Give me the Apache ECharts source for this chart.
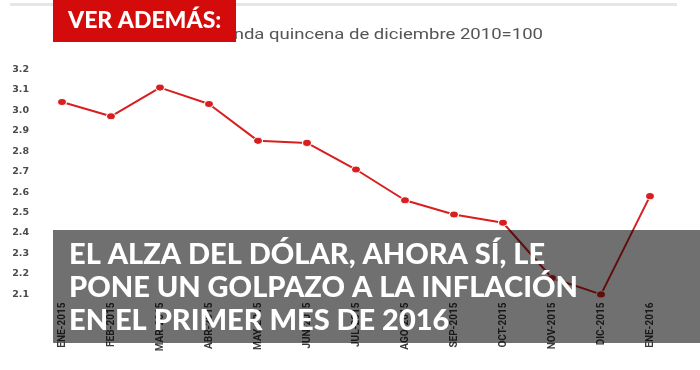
<!DOCTYPE html>
<html>
<head>
<meta charset="utf-8">
<script src="https://cdn.jsdelivr.net/npm/echarts@6/dist/echarts.min.js"></script>
<style>
html,body{margin:0;padding:0;background:#fff;}
#chart{width:700px;height:370px;}
</style>
</head>
<body>
<div id="chart"></div>
<script>
const categories = ['ENE-2015','FEB-2015','MAR-2015','ABR-2015','MAY-2015','JUN-2015','JUL-2015','AGO-2015','SEP-2015','OCT-2015','NOV-2015','DIC-2015','ENE-2016'];
const inflation = [3.04, 2.97, 3.11, 3.03, 2.85, 2.84, 2.71, 2.56, 2.49, 2.45, 2.18, 2.10, 2.58];
const yTickLabels = [2.1, 2.2, 2.3, 2.4, 2.5, 2.6, 2.7, 2.8, 2.9, 3.0, 3.1, 3.2];
const titleText = 'Base segunda quincena de diciembre 2010=100';
const badgeText = 'VER ADEMÁS:';
const headlineLines = ['EL ALZA DEL DÓLAR, AHORA SÍ, LE', 'PONE UN GOLPAZO A LA INFLACIÓN', 'EN EL PRIMER MES DE 2016'];

const chart = echarts.init(document.getElementById('chart'));
chart.setOption({
  animation: false,
  backgroundColor: '#fff',
  grid: {left: 62, right: 50, top: 61, bottom: 71.5},
  xAxis: {
    type: 'category',
    data: categories,
    boundaryGap: false,
    axisLine: {show: false},
    axisTick: {show: false},
    axisLabel: {rotate: 90, margin: 4, fontFamily: 'Roboto', fontSize: 10, fontWeight: 'bold', color: '#3a3a3a', interval: 0}
  },
  yAxis: {
    type: 'value',
    min: 2.08,
    max: 3.24,
    splitLine: {show: false},
    axisLine: {show: false},
    axisTick: {show: false},
    axisLabel: {
      customValues: yTickLabels,
      margin: 33,
      fontFamily: 'DejaVu Sans',
      fontSize: 9.5,
      fontWeight: 'bold',
      color: '#4a4a4a',
      formatter: v => Number(v).toFixed(1)
    }
  },
  series: [{
    type: 'line',
    data: inflation,
    symbol: 'circle',
    symbolSize: [9, 7],
    lineStyle: {color: '#d81e1e', width: 2},
    itemStyle: {color: '#d81e1e', borderColor: '#fff', borderWidth: 1}
  }],
  graphic: [
    {type: 'text', z: 90, x: 543, y: 35, scaleX: 1.235, style: {text: titleText, fontFamily: 'Roboto', fontSize: 15, fill: '#555', textAlign: 'right', verticalAlign: 'middle'}},
    {type: 'rect', z: 100, shape: {x: 10, y: 3, width: 667, height: 3}, style: {fill: '#e6e6e6'}},
    {type: 'rect', z: 101, shape: {x: 53, y: 0, width: 183, height: 42}, style: {fill: '#d40b0b'}},
    {type: 'text', z: 102, x: 68, y: 21, style: {text: badgeText, fontFamily: 'Lato', fontWeight: 900, fontSize: 23, fill: '#fff', verticalAlign: 'middle'}},
    {type: 'rect', z: 100, shape: {x: 53, y: 230, width: 647, height: 113}, style: {fill: 'rgba(0,0,0,0.56)'}},
    {type: 'text', z: 102, x: 69, y: 255, style: {text: headlineLines[0], fontFamily: 'Lato', fontWeight: 900, fontSize: 29, fill: '#fff', verticalAlign: 'middle'}},
    {type: 'text', z: 102, x: 69, y: 288, style: {text: headlineLines[1], fontFamily: 'Lato', fontWeight: 900, fontSize: 29, fill: '#fff', verticalAlign: 'middle'}},
    {type: 'text', z: 102, x: 69, y: 321, style: {text: headlineLines[2], fontFamily: 'Lato', fontWeight: 900, fontSize: 29, fill: '#fff', verticalAlign: 'middle'}}
  ]
});
</script>
</body>
</html>
